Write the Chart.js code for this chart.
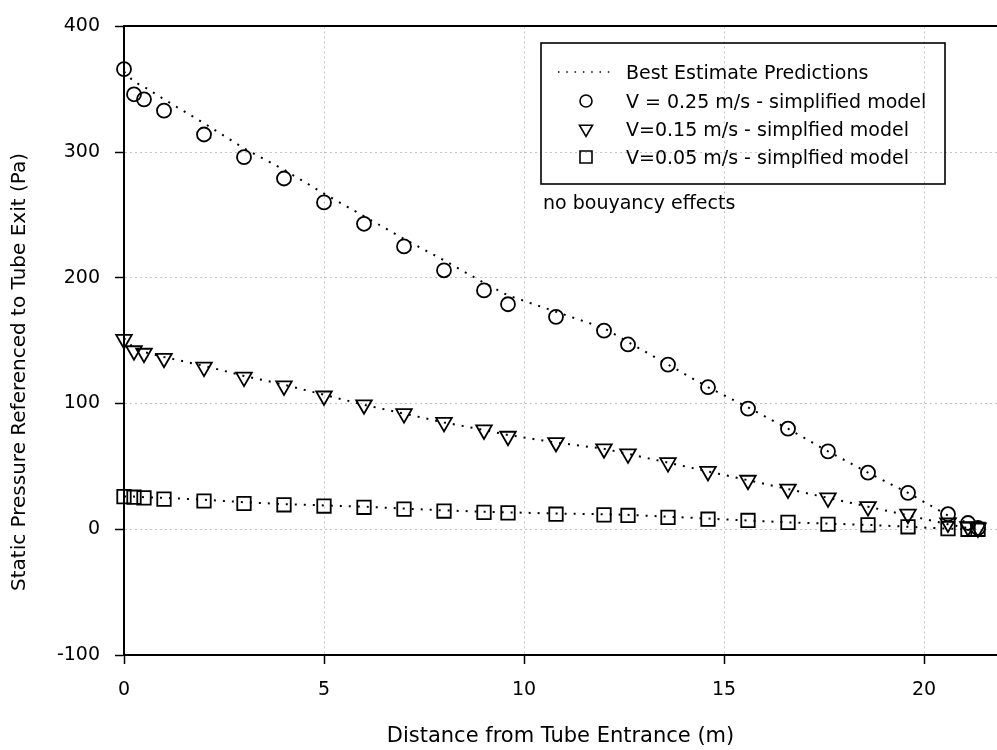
<!DOCTYPE html>
<html>
<head>
<meta charset="utf-8">
<title>Static pressure along the tube</title>
<script src="https://cdn.jsdelivr.net/npm/chart.js@4.4.1/dist/chart.umd.min.js"></script>
<style>
    html, body { margin: 0; padding: 0; background: #fff; }
    #wrap { width: 997px; height: 750px; }
</style>
</head>
<body>
<div id="wrap"><canvas id="pressureChart" width="997" height="750"></canvas></div>
<script>
// stations along the tube (m), same for every velocity
const distances = [0, 0.25, 0.5, 1, 2, 3, 4, 5, 6, 7, 8, 9, 9.6, 10.8, 12, 12.6, 13.6, 14.6, 15.6, 16.6, 17.6, 18.6, 19.6, 20.6, 21.1, 21.35];

// simplified model (markers), Pa
const v025Model = [366, 346, 342, 333, 314, 296, 279, 260, 243, 225, 206, 190, 179, 169, 158, 147, 131, 113, 96, 80, 62, 45, 29, 12, 5, 1];
const v015Model = [151, 142, 140, 136, 129, 121, 114, 106, 99, 92, 85, 79, 74, 69, 64, 60, 53, 46, 39, 32, 25, 18, 12, 5, 2, 1];
const v005Model = [26, 25.5, 25, 24, 22.5, 20.5, 19.5, 18.5, 17.5, 16, 14.5, 13.5, 13, 12, 11.5, 11, 9.5, 8, 7, 5.5, 4, 3.5, 2, 0.5, 0, 0];

// best estimate predictions (dotted lines), Pa
const v025Best = [364, 356, 352, 342, 323, 303, 286, 267, 249, 231, 214, 196, 186, 173, 160, 149, 131, 113, 97, 80, 62, 45, 29, 11, 5, 0];
const v015Best = [152, 144, 141, 137, 130, 122, 115, 107, 99, 92, 85, 79, 75, 69, 64, 60, 53, 46, 39, 32, 25, 18, 11, 4, 1, 0];
const v005Best = [26, 26, 25.5, 25, 23.5, 21.5, 20, 19, 18, 16.5, 15, 14, 13.5, 12.5, 12, 11.5, 10, 8.5, 7, 5.5, 4.5, 3.5, 2, 0.5, 0, 0];

const xTicks = [0, 5, 10, 15, 20];
const yTicks = [-100, 0, 100, 200, 300, 400];

const legendLabels = [
    'Best Estimate Predictions',
    'V = 0.25 m/s - simplified model',
    'V=0.15 m/s - simplfied model',
    'V=0.05 m/s - simplfied model'
];
const noteText = 'no bouyancy effects';
const xTitle = 'Distance from Tube Entrance (m)';
const yTitle = 'Static Pressure Referenced to Tube Exit (Pa)';

const FONT = '"DejaVu Sans", Arial, sans-serif';
const toPoints = arr => distances.map((x, i) => ({ x: x, y: arr[i] }));

function bestLine(label, arr) {
    return {
        label: label,
        data: toPoints(arr),
        showLine: true,
        borderColor: '#000',
        borderWidth: 2,
        borderDash: [2, 7],
        pointRadius: 0,
        fill: false
    };
}

function modelPoints(label, arr, style, radius) {
    return {
        label: label,
        data: toPoints(arr),
        showLine: false,
        pointStyle: style,
        pointRotation: style === 'triangle' ? 180 : 0,
        pointRadius: radius,
        pointBorderWidth: 1.8,
        pointBorderColor: '#000',
        pointBackgroundColor: 'rgba(0,0,0,0)',
        clip: false
    };
}

// legend box, note and vertical axis title
function drawMarker(ctx, style, x, y, r) {
    ctx.beginPath();
    if (style === 'circle') {
        ctx.arc(x, y, r, 0, Math.PI * 2);
    } else if (style === 'triangle') {
        ctx.moveTo(x - r * 0.87, y - r * 0.5);
        ctx.lineTo(x + r * 0.87, y - r * 0.5);
        ctx.lineTo(x, y + r);
        ctx.closePath();
    } else {
        ctx.rect(x - r, y - r, r * 2, r * 2);
    }
    ctx.stroke();
}

const boxLegend = {
    id: 'boxLegend',
    afterDraw(chart) {
        const ctx = chart.ctx;
        ctx.save();
        ctx.strokeStyle = '#000';
        ctx.fillStyle = '#000';
        ctx.lineWidth = 1.6;
        ctx.strokeRect(541, 43, 404, 141);

        ctx.font = '19px ' + FONT;
        ctx.textAlign = 'left';
        ctx.textBaseline = 'alphabetic';
        const baselines = [79, 108, 136, 164];
        const styles = ['line', 'circle', 'triangle', 'rect'];
        const sizes = [0, 6, 7.5, 6];
        legendLabels.forEach((txt, i) => {
            const cy = baselines[i] - 7;
            if (styles[i] === 'line') {
                ctx.setLineDash([1.5, 6.8]);
                ctx.beginPath();
                ctx.moveTo(558, cy);
                ctx.lineTo(610, cy);
                ctx.stroke();
                ctx.setLineDash([]);
            } else {
                drawMarker(ctx, styles[i], 586, cy, sizes[i]);
            }
            ctx.fillText(txt, 626, baselines[i]);
        });
        ctx.fillText(noteText, 543, 209);

        ctx.translate(20, 372);
        ctx.rotate(-Math.PI / 2);
        ctx.font = '20px ' + FONT;
        ctx.textAlign = 'center';
        ctx.textBaseline = 'middle';
        ctx.fillText(yTitle, 0, 0);
        ctx.restore();
    }
};

const gridStyle = { color: '#c4c4c4', lineWidth: 1, tickColor: '#000', tickWidth: 1.5, tickLength: 9 };
const tickFont = { family: FONT, size: 19 };
const noSidePadding = s => { s.paddingLeft = 0; s.paddingRight = 0; };

new Chart(document.getElementById('pressureChart'), {
    type: 'scatter',
    data: {
        datasets: [
            bestLine(legendLabels[0], v025Best),
            bestLine(legendLabels[0], v015Best),
            bestLine(legendLabels[0], v005Best),
            modelPoints(legendLabels[1], v025Model, 'circle', 7),
            modelPoints(legendLabels[2], v015Model, 'triangle', 9),
            modelPoints(legendLabels[3], v005Model, 'rect', 9.5)
        ]
    },
    options: {
        responsive: false,
        animation: false,
        events: [],
        layout: { padding: 0, autoPadding: false },
        plugins: {
            legend: { display: false },
            tooltip: { enabled: false }
        },
        scales: {
            x: {
                type: 'linear',
                position: 'bottom',
                min: 0,
                max: 21.825,
                afterBuildTicks: s => { s.ticks = xTicks.map(v => ({ value: v })); },
                afterFit: s => { s.height = 95; noSidePadding(s); },
                ticks: { color: '#000', font: tickFont, padding: 15, maxRotation: 0 },
                grid: gridStyle,
                border: { color: '#000', width: 2, dash: [2, 3] },
                title: {
                    display: true,
                    text: xTitle,
                    color: '#000',
                    font: { family: FONT, size: 21 },
                    padding: { top: 0, bottom: 1 }
                }
            },
            top: {
                type: 'linear',
                position: 'top',
                min: 0,
                max: 21.825,
                afterFit: s => { s.height = 17; noSidePadding(s); },
                ticks: { display: false },
                grid: { display: false },
                border: { color: '#000', width: 2 }
            },
            y: {
                type: 'linear',
                min: -100,
                max: 400,
                afterBuildTicks: s => { s.ticks = yTicks.map(v => ({ value: v })); },
                afterFit: s => { s.width = 124; },
                ticks: { color: '#000', font: tickFont, padding: 15 },
                grid: gridStyle,
                border: { color: '#000', width: 2, dash: [2, 3] }
            }
        }
    },
    plugins: [boxLegend]
});
</script>
</body>
</html>
